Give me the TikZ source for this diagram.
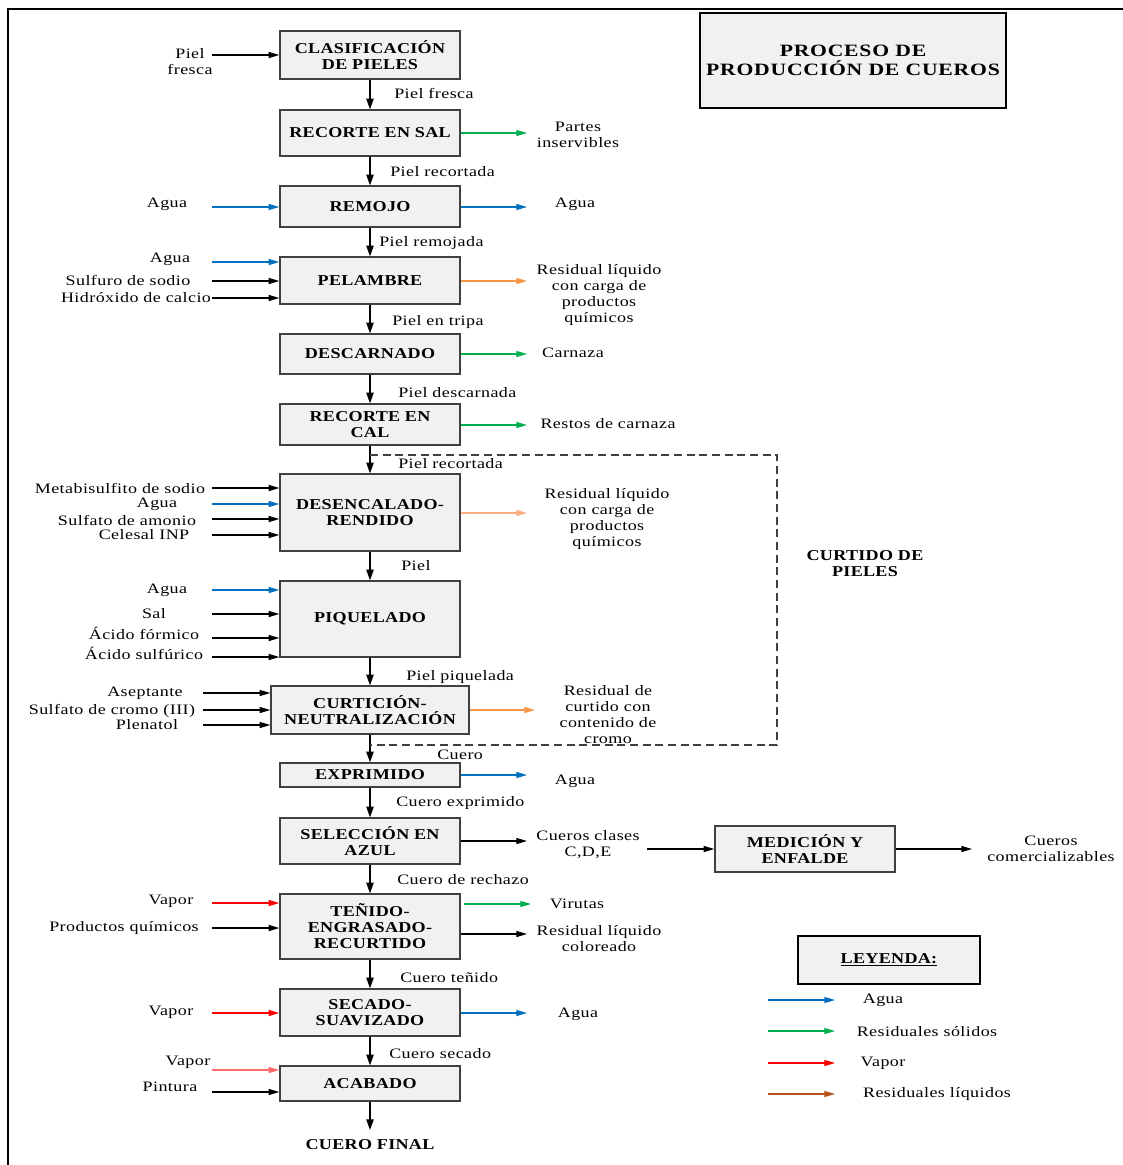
\documentclass[tikz,border=0pt]{standalone}
\usepackage{fontspec}
\setmainfont{Liberation Serif}
\usetikzlibrary{arrows.meta}
\definecolor{cblue}{HTML}{0070C0}
\definecolor{cgreen}{HTML}{00B050}
\definecolor{cred}{HTML}{FF0000}
\definecolor{clred}{HTML}{FF6A6A}
\definecolor{corange}{HTML}{F79646}
\definecolor{cpeach}{HTML}{FBAE80}
\definecolor{cbrown}{HTML}{B4521A}
\definecolor{boxfill}{HTML}{F1F1F1}
\newfontfamily\lblfont[FakeStretch=1.25,LetterSpace=3]{Liberation Serif}
\newfontfamily\boxfont[FakeStretch=1.2,LetterSpace=2]{Liberation Serif Bold}
\newfontfamily\titlefont[FakeStretch=1.25,LetterSpace=4.5]{Liberation Serif Bold}
\begin{document}
\begin{tikzpicture}[x=0.75pt,y=-0.75pt,
  font=\lblfont\fontsize{10.8}{12}\selectfont,
  box/.style={draw=black!75, line width=1pt, fill=boxfill, minimum width=135pt,
    inner sep=0pt, align=center, font=\boxfont\fontsize{11.3}{12}\selectfont},
  bh/.style={minimum height={#1*0.75pt}},
  arr/.style={line width=0.9pt, -{Triangle[length=8pt,width=4.5pt]}},
  varr/.style={line width=1pt, -{Triangle[length=8pt,width=5.5pt]}},
  lbl/.style={inner sep=0pt, anchor=west},
  txt/.style={inner sep=0pt, align=center},
  thickbox/.style={draw=black, line width=2.2pt, fill=boxfill, inner sep=0pt, align=center},
]
\useasboundingbox (0,0) rectangle (1123,1165);
% frame
\draw[line width=1.6pt] (8,1166) -- (8,9) -- (1124,9);

% title
\node[thickbox, minimum width={306*0.75pt}, minimum height={95*0.75pt},
  font=\titlefont\fontsize{13}{14.5}\selectfont] (title) at (853,60.5) {PROCESO DE\\PRODUCCIÓN DE CUEROS};

% main boxes
\node[box,bh=48] (b1) at (370,55) {CLASIFICACIÓN\\DE PIELES};
\node[box,bh=46] (b2) at (370,133) {RECORTE EN SAL};
\node[box,bh=41] (b3) at (370,206.5) {REMOJO};
\node[box,bh=47] (b4) at (370,280.5) {PELAMBRE};
\node[box,bh=40] (b5) at (370,354) {DESCARNADO};
\node[box,bh=41] (b6) at (370,424.5) {RECORTE EN\\CAL};
\node[box,bh=77] (b7) at (370,512.5) {DESENCALADO-\\RENDIDO};
\node[box,bh=76] (b8) at (370,619) {PIQUELADO};
\node[box,bh=48,minimum width={198*0.75pt}] (b9) at (370,710) {CURTICIÓN-\\NEUTRALIZACIÓN};
\node[box,bh=24] (b10) at (370,775) {EXPRIMIDO};
\node[box,bh=46] (b11) at (370,841) {SELECCIÓN EN\\AZUL};
\node[box,bh=65] (b12) at (370,926.5) {TEÑIDO-\\ENGRASADO-\\RECURTIDO};
\node[box,bh=47] (b13) at (370,1012.5) {SECADO-\\SUAVIZADO};
\node[box,bh=35] (b14) at (370,1083.5) {ACABADO};
\node[box,bh=46] (med) at (805,849) {MEDICIÓN Y\\ENFALDE};
\node[txt,font=\boxfont\fontsize{11.3}{12}\selectfont] (final) at (370,1145) {CUERO FINAL};

% main flow
\draw[varr] (b1) -- (b2);
\draw[varr] (b2) -- (b3);
\draw[varr] (b3) -- (b4);
\draw[varr] (b4) -- (b5);
\draw[varr] (b5) -- (b6);
\draw[varr] (b6) -- (b7);
\draw[varr] (b7) -- (b8);
\draw[varr] (b8) -- (b9);
\draw[varr] (b9) -- (b10);
\draw[varr] (b10) -- (b11);
\draw[varr] (b11) -- (b12);
\draw[varr] (b12) -- (b13);
\draw[varr] (b13) -- (b14);
\coordinate (endp) at (370,1130);
\draw[varr] (b14) -- (endp);

% flow labels
\node[lbl] (f1) at (394,93) {Piel fresca};
\node[lbl] (f2) at (390,172) {Piel recortada};
\node[lbl] (f3) at (379,243) {Piel remojada};
\node[lbl] (f4) at (392,322) {Piel en tripa};
\node[lbl] (f5) at (398,393) {Piel descarnada};
\node[lbl] (f6) at (398,464) {Piel recortada};
\node[lbl] (f7) at (401,566) {Piel};
\node[lbl] (f8) at (406,677) {Piel piquelada};
\node[lbl] (f9) at (437,755) {Cuero};
\node[lbl] (f10) at (396,803) {Cuero exprimido};
\node[lbl] (f11) at (397,880) {Cuero de rechazo};
\node[lbl] (f12) at (400,978) {Cuero teñido};
\node[lbl] (f13) at (389,1054) {Cuero secado};

% dashed group
\draw[line width=0.9pt, black!75, dash pattern=on 6pt off 3.5pt] (370,455) -- (777,455) -- (777,745) -- (370,745);
\node[txt,font=\boxfont\fontsize{11.3}{12}\selectfont] (grp) at (865,564) {CURTIDO DE\\PIELES};

% left inputs
\node[txt] (i1) at (190,62) {Piel\\fresca};
\draw[arr] (212,55) -- (212,55 -| b1.west);
\node[txt] (i2) at (167,204) {Agua};
\draw[arr,cblue] (212,207) -- (212,207 -| b3.west);
\node[txt] (i3) at (170,259) {Agua};
\draw[arr,cblue] (212,262) -- (212,262 -| b4.west);
\node[txt] (i4) at (128,280) {Sulfuro de sodio};
\draw[arr] (212,281) -- (212,281 -| b4.west);
\node[txt] (i5) at (136,298) {Hidróxido de calcio};
\draw[arr] (212,298) -- (212,298 -| b4.west);
\node[txt] (i6) at (120,488) {Metabisulfito de sodio};
\draw[arr] (212,488) -- (212,488 -| b7.west);
\node[txt] (i7) at (157,504) {Agua};
\draw[arr,cblue] (212,504) -- (212,504 -| b7.west);
\node[txt] (i8) at (127,520) {Sulfato de amonio};
\draw[arr] (212,519) -- (212,519 -| b7.west);
\node[txt] (i9) at (144,535) {Celesal INP};
\draw[arr] (212,535) -- (212,535 -| b7.west);
\node[txt] (i10) at (167,590) {Agua};
\draw[arr,cblue] (212,590) -- (212,590 -| b8.west);
\node[txt] (i11) at (154,614) {Sal};
\draw[arr] (212,614) -- (212,614 -| b8.west);
\node[txt] (i12) at (144,633) {Ácido fórmico};
\draw[arr] (212,638) -- (212,638 -| b8.west);
\node[txt] (i13) at (144,653) {Ácido sulfúrico};
\draw[arr] (212,657) -- (212,657 -| b8.west);
\node[txt] (i14) at (145,693) {Aseptante};
\draw[arr] (203,693) -- (203,693 -| b9.west);
\node[txt] (i15) at (112,711) {Sulfato de cromo (III)};
\draw[arr] (203,710) -- (203,710 -| b9.west);
\node[txt] (i16) at (147,725) {Plenatol};
\draw[arr] (203,725) -- (203,725 -| b9.west);
\node[txt] (i17) at (171,901) {Vapor};
\draw[arr,cred] (212,903) -- (212,903 -| b12.west);
\node[txt] (i18) at (124,928) {Productos químicos};
\draw[arr] (212,928) -- (212,928 -| b12.west);
\node[txt] (i19) at (171,1012) {Vapor};
\draw[arr,cred] (212,1013) -- (212,1013 -| b13.west);
\node[txt] (i20) at (188,1062) {Vapor};
\draw[arr,clred] (212,1070) -- (212,1070 -| b14.west);
\node[txt] (i21) at (170,1087) {Pintura};
\draw[arr] (212,1092) -- (212,1092 -| b14.west);

% right outputs
\node[txt] (o1) at (578,135) {Partes\\inservibles};
\draw[arr,cgreen] (b2.east |- 0,133) -- (527,133);
\node[txt] (o2) at (575,204) {Agua};
\draw[arr,cblue] (b3.east |- 0,207) -- (527,207);
\node[txt] (o3) at (599,295.5) {Residual líquido\\con carga de\\productos\\químicos};
\draw[arr,corange] (b4.east |- 0,281) -- (527,281);
\node[txt] (o4) at (573,353) {Carnaza};
\draw[arr,cgreen] (b5.east |- 0,354) -- (527,354);
\node[txt] (o5) at (608,424) {Restos de carnaza};
\draw[arr,cgreen] (b6.east |- 0,425) -- (527,425);
\node[txt] (o6) at (607,519) {Residual líquido\\con carga de\\productos\\químicos};
\draw[arr,cpeach] (b7.east |- 0,513) -- (527,513);
\node[txt] (o7) at (608,715) {Residual de\\curtido con\\contenido de\\cromo};
\draw[arr,corange] (b9.east |- 0,710) -- (535,710);
\node[txt] (o8) at (575,781) {Agua};
\draw[arr,cblue] (b10.east |- 0,775) -- (527,775);
\node[txt] (o9) at (588,845) {Cueros clases\\C,D,E};
\draw[arr] (b11.east |- 0,841) -- (527,841);
\coordinate (cde) at (647,849);
\draw[arr] (cde) -- (med.west);
\node[txt] (o10) at (1051,849) {Cueros\\comercializables};
\coordinate (com) at (972,849);
\draw[arr] (med.east) -- (com);
\node[txt] (o11) at (577,904) {Virutas};
\draw[arr,cgreen] (464,904) -- (531,904);
\node[txt] (o12) at (599,939) {Residual líquido\\coloreado};
\draw[arr] (b12.east |- 0,934) -- (527,934);
\node[txt] (o13) at (578,1014) {Agua};
\draw[arr,cblue] (b13.east |- 0,1013) -- (527,1013);

% legend
\node[thickbox, minimum width={182*0.75pt}, minimum height={48*0.75pt},
  font=\boxfont\fontsize{11.3}{12}\selectfont] (ley) at (889,960) {\underline{LEYENDA:}};
\draw[arr,cblue] (768,1000) -- (835,1000);
\node[txt] (l1) at (883,1000) {Agua};
\draw[arr,cgreen] (768,1031) -- (835,1031);
\node[txt] (l2) at (927,1032) {Residuales sólidos};
\draw[arr,cred] (768,1063) -- (835,1063);
\node[txt] (l3) at (883,1063) {Vapor};
\draw[arr,cbrown] (768,1094) -- (835,1094);
\node[txt] (l4) at (937,1094) {Residuales líquidos};
\end{tikzpicture}
\end{document}
